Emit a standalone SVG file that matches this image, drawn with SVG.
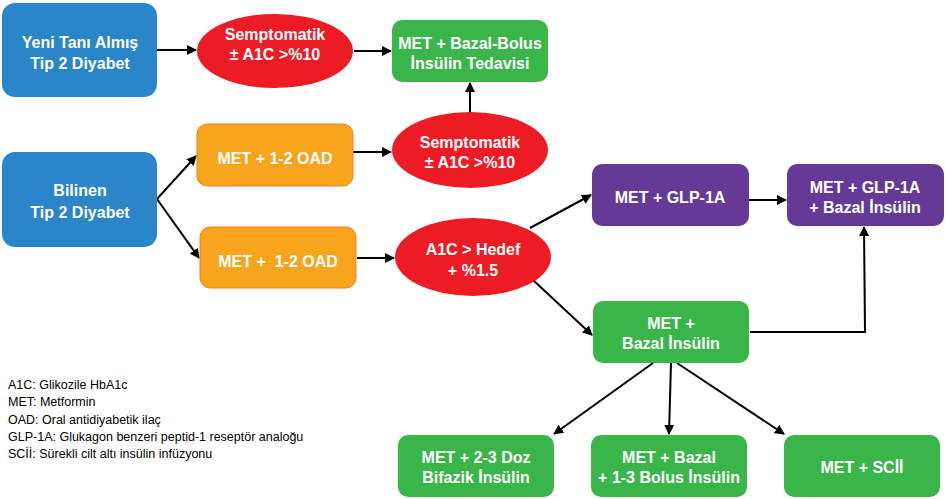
<svg xmlns="http://www.w3.org/2000/svg" width="946" height="499" viewBox="0 0 946 499">
<defs>
<marker id="ah" viewBox="0 0 10 10" refX="9" refY="5" markerWidth="5" markerHeight="5" orient="auto" markerUnits="strokeWidth">
<path d="M0,0 L10,5 L0,10 Z" fill="#000"/>
</marker>
<style>
.t{font-family:"Liberation Sans",Arial,sans-serif;font-weight:bold;font-size:16px;fill:#fff;text-anchor:middle;dominant-baseline:central}
.blue{fill:#2A86C8}
.red{fill:#ED1C24}
.green{fill:#3AB54A}
.orange{fill:#F7A51D;stroke:#F58220;stroke-width:1}
.purple{fill:#643A96}
.c{fill:none;stroke:#000;stroke-width:2;marker-end:url(#ah)}
.lg{font-family:"Liberation Sans",Arial,sans-serif;font-size:12.5px;fill:#000}
</style>
</defs>
<rect width="946" height="499" fill="#fff"/>

<g id="connectors">
<line class="c" x1="157" y1="50" x2="196" y2="50"/>
<line class="c" x1="354" y1="51" x2="391" y2="51"/>
<line class="c" x1="470" y1="112" x2="470" y2="83"/>
<line class="c" x1="157" y1="199" x2="196" y2="156"/>
<line class="c" x1="157" y1="199" x2="199" y2="258"/>
<line class="c" x1="353" y1="152" x2="391" y2="152"/>
<line class="c" x1="357" y1="258" x2="394" y2="258"/>
<line class="c" x1="530" y1="228" x2="591" y2="195"/>
<line class="c" x1="533" y1="280" x2="592" y2="335"/>
<line class="c" x1="749" y1="200" x2="786" y2="200"/>
<polyline class="c" points="750,332 865,332 864,227"/>
<line class="c" x1="653" y1="363" x2="554" y2="434"/>
<line class="c" x1="671" y1="363" x2="669" y2="434"/>
<line class="c" x1="677" y1="363" x2="784" y2="434"/>
</g>

<g id="yeni">
<rect class="blue" x="2" y="3" width="155" height="94" rx="13"/>
<text class="t" x="80" y="42">Yeni Tanı Almış</text>
<text class="t" x="80" y="63">Tip 2 Diyabet</text>
</g>

<g id="semp1">
<ellipse class="red" cx="275" cy="51" rx="78" ry="37"/>
<text class="t" x="275" y="34">Semptomatik</text>
<text class="t" x="275" y="54">± A1C &gt;%10</text>
</g>

<g id="bazalbolus">
<rect class="green" x="392" y="20" width="156" height="62" rx="10"/>
<text class="t" x="470" y="43">MET + Bazal-Bolus</text>
<text class="t" x="470" y="63">İnsülin Tedavisi</text>
</g>

<g id="bilinen">
<rect class="blue" x="2" y="152" width="155" height="95" rx="13"/>
<text class="t" x="80" y="190">Bilinen</text>
<text class="t" x="80" y="212">Tip 2 Diyabet</text>
</g>

<g id="oad1">
<rect class="orange" x="197" y="124" width="156" height="62" rx="10"/>
<text class="t" x="275" y="158">MET + 1-2 OAD</text>
</g>

<g id="oad2">
<rect class="orange" x="200" y="227" width="156" height="61" rx="10"/>
<text class="t" x="278" y="261" xml:space="preserve">MET +  1-2 OAD</text>
</g>

<g id="semp2">
<ellipse class="red" cx="470" cy="150" rx="78" ry="38"/>
<text class="t" x="470" y="142">Semptomatik</text>
<text class="t" x="470" y="162">± A1C &gt;%10</text>
</g>

<g id="hedef">
<ellipse class="red" cx="473" cy="257" rx="78" ry="39"/>
<text class="t" x="473" y="249">A1C &gt; Hedef</text>
<text class="t" x="473" y="270">+ %1.5</text>
</g>

<g id="glp">
<rect class="purple" x="592" y="164" width="157" height="62" rx="10"/>
<text class="t" x="670" y="197">MET + GLP-1A</text>
</g>

<g id="glpbazal">
<rect class="purple" x="787" y="164" width="157" height="62" rx="10"/>
<text class="t" x="865" y="187">MET + GLP-1A</text>
<text class="t" x="865" y="207">+ Bazal İnsülin</text>
</g>

<g id="bazal">
<rect class="green" x="593" y="301" width="156" height="62" rx="10"/>
<text class="t" x="671" y="323">MET +</text>
<text class="t" x="671" y="343">Bazal İnsülin</text>
</g>

<g id="bifazik">
<rect class="green" x="398" y="435" width="156" height="62" rx="10"/>
<text class="t" x="476" y="457">MET + 2-3 Doz</text>
<text class="t" x="476" y="477">Bifazik İnsülin</text>
</g>

<g id="bolus">
<rect class="green" x="591" y="435" width="156" height="62" rx="10"/>
<text class="t" x="669" y="457">MET + Bazal</text>
<text class="t" x="669" y="477">+ 1-3 Bolus İnsülin</text>
</g>

<g id="scii">
<rect class="green" x="784" y="435" width="156" height="62" rx="10"/>
<text class="t" x="862" y="467">MET + SCİİ</text>
</g>

<g id="legend">
<text class="lg" x="8" y="389">A1C: Glikozile HbA1c</text>
<text class="lg" x="8" y="406">MET: Metformin</text>
<text class="lg" x="8" y="424">OAD: Oral antidiyabetik ilaç</text>
<text class="lg" x="8" y="441">GLP-1A: Glukagon benzeri peptid-1 reseptör analoğu</text>
<text class="lg" x="8" y="458">SCİİ: Sürekli cilt altı insülin infüzyonu</text>
</g>
</svg>
